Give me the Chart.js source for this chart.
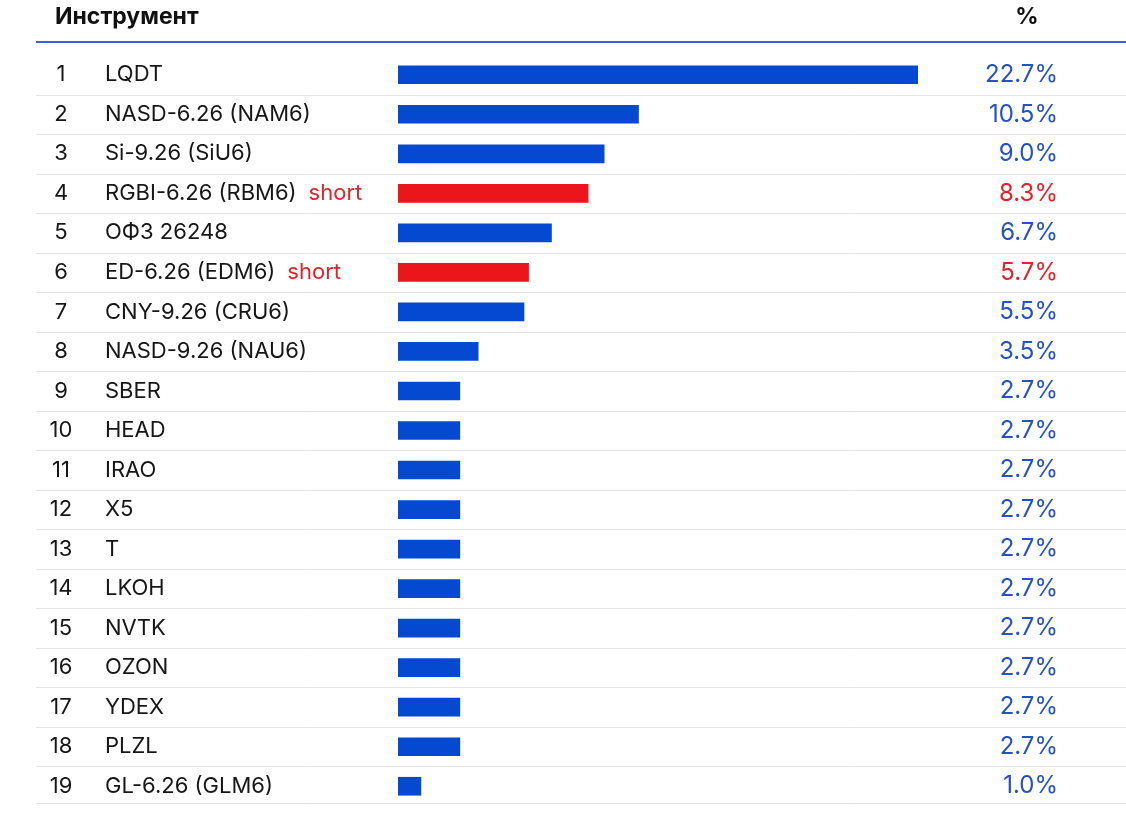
<!DOCTYPE html>
<html>
<head>
<meta charset="utf-8">
<script src="https://cdn.jsdelivr.net/npm/chart.js@4/dist/chart.umd.min.js"></script>
<style>
  html, body { margin: 0; padding: 0; background: #fff; }
  #wrap { width: 1126px; height: 818px; }
</style>
</head>
<body>
<div id="wrap"><canvas id="chart" width="1126" height="818"></canvas></div>
<script>
// instruments in portfolio, share of portfolio in %
const instruments = [
    'LQDT', 'NASD-6.26 (NAM6)', 'Si-9.26 (SiU6)', 'RGBI-6.26 (RBM6)', 'ОФЗ 26248',
    'ED-6.26 (EDM6)', 'CNY-9.26 (CRU6)', 'NASD-9.26 (NAU6)', 'SBER', 'HEAD',
    'IRAO', 'X5', 'T', 'LKOH', 'NVTK', 'OZON', 'YDEX', 'PLZL', 'GL-6.26 (GLM6)'
];
const shares = [22.7, 10.5, 9.0, 8.3, 6.7, 5.7, 5.5, 3.5, 2.7, 2.7, 2.7, 2.7, 2.7, 2.7, 2.7, 2.7, 2.7, 2.7, 1.0];
const isShort = [false, false, false, true, false, true, false, false, false, false,
    false, false, false, false, false, false, false, false, false];
const headerName = 'Инструмент';
const headerShare = '%';

const BLUE = '#0449d0';
const RED = '#ea161c';
const TEXT_BLUE = '#2450c8';
const TEXT_RED = '#e0232b';
const FONT = 'Inter, "Liberation Sans", sans-serif';

const tablePlugin = {
    id: 'tableText',
    afterDraw(chart) {
        const ctx = chart.ctx;
        const y = chart.scales.y;
        const left = 36, right = 1126;
        const n = instruments.length;
        ctx.save();

        // header
        ctx.fillStyle = '#111';
        ctx.font = 'bold 23px ' + FONT;
        ctx.textBaseline = 'middle';
        ctx.textAlign = 'left';
        ctx.fillText(headerName, 55, 17);
        ctx.textAlign = 'center';
        ctx.fillText(headerShare, 1027, 17);

        // row separators
        ctx.strokeStyle = '#e4e4e4';
        ctx.lineWidth = 1;
        for (let i = 0; i < n; i++) {
            const sep = i < n - 1
                ? (y.getPixelForValue(i) + y.getPixelForValue(i + 1)) / 2
                : y.getPixelForValue(i) + 17;
            ctx.beginPath();
            ctx.moveTo(left, Math.round(sep) + 0.5);
            ctx.lineTo(right, Math.round(sep) + 0.5);
            ctx.stroke();
        }

        // header line
        ctx.strokeStyle = '#3d62d8';
        ctx.lineWidth = 2;
        ctx.beginPath();
        ctx.moveTo(left, 42);
        ctx.lineTo(right, 42);
        ctx.stroke();

        instruments.forEach((name, i) => {
            const py = y.getPixelForValue(i);
            ctx.font = '22px ' + FONT;
            ctx.fillStyle = '#161616';
            ctx.textAlign = 'center';
            ctx.fillText(String(i + 1), 61, py);
            ctx.textAlign = 'left';
            ctx.fillText(name, 105, py);
            if (isShort[i]) {
                const w = ctx.measureText(name).width;
                ctx.fillStyle = TEXT_RED;
                ctx.fillText('short', 105 + w + 12, py);
            }
            ctx.font = '24px ' + FONT;
            ctx.textAlign = 'right';
            ctx.fillStyle = isShort[i] ? TEXT_RED : TEXT_BLUE;
            ctx.fillText(shares[i].toFixed(1) + '%', 1058, py);
        });
        ctx.restore();
    }
};

new Chart(document.getElementById('chart'), {
    type: 'bar',
    data: {
        labels: instruments,
        datasets: [{
            data: shares,
            backgroundColor: isShort.map(s => s ? RED : BLUE),
            borderWidth: 0,
            barThickness: 18
        }]
    },
    options: {
        indexAxis: 'y',
        responsive: false,
        animation: false,
        layout: { padding: { left: 398, right: 208, top: 55, bottom: 12 } },
        scales: {
            x: { display: false, min: 0, max: Math.max(...shares) },
            y: { display: false }
        },
        plugins: {
            legend: { display: false },
            tooltip: { enabled: false }
        }
    },
    plugins: [tablePlugin]
});
</script>
</body>
</html>
